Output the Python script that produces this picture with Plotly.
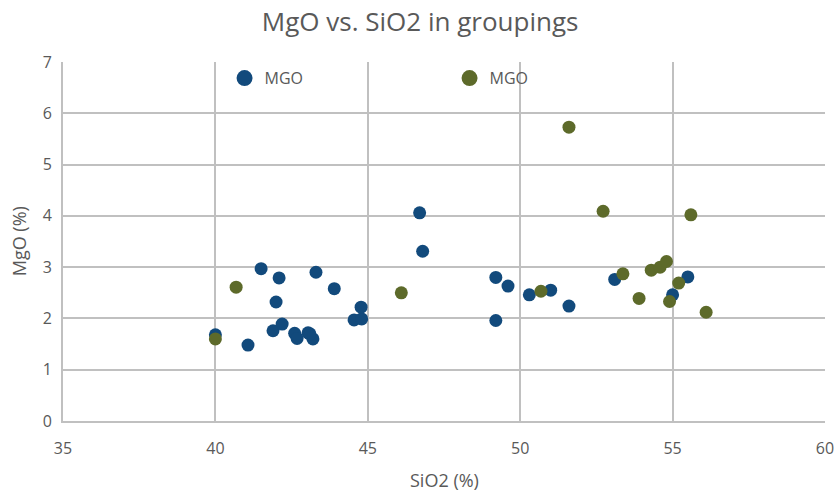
import plotly.graph_objects as go

# Group 1 (blue) samples: SiO2 % and MgO %
sio2_a = [40.0, 41.07, 41.5, 42.09, 41.99, 41.89, 42.19, 42.6, 42.68, 43.04, 43.2, 43.3,
          43.9, 44.55, 44.8, 44.78, 46.7, 46.8, 49.2, 49.2, 49.6, 50.3, 51.0, 51.6,
          53.1, 55.0, 55.5, 43.1]
mgo_a = [1.68, 1.48, 2.97, 2.79, 2.32, 1.76, 1.89, 1.71, 1.61, 1.72, 1.6, 2.9,
         2.58, 1.97, 1.99, 2.22, 4.06, 3.31, 2.8, 1.96, 2.63, 2.46, 2.55, 2.24,
         2.76, 2.46, 2.81, 1.7]

# Group 2 (olive) samples
sio2_b = [40.0, 40.68, 46.1, 50.68, 51.6, 52.72, 53.37, 53.9, 54.3, 54.59, 54.8,
          54.9, 55.2, 55.6, 56.1]
mgo_b = [1.6, 2.61, 2.5, 2.53, 5.73, 4.09, 2.87, 2.39, 2.94, 3.0, 3.11,
         2.33, 2.69, 4.02, 2.12]

series_names = ["MGO", "MGO"]
x_ticks = [35, 40, 45, 50, 55, 60]
y_ticks = [0, 1, 2, 3, 4, 5, 6, 7]

BLUE = "#124a7c"
OLIVE = "#5d6a2a"
GRID = "#c0c0c0"
TEXT = "#595959"
FONT = "Open Sans"

fig = go.Figure()
for xs, ys, color, name in [(sio2_a, mgo_a, BLUE, series_names[0]),
                            (sio2_b, mgo_b, OLIVE, series_names[1])]:
    # data points
    fig.add_trace(go.Scatter(x=xs, y=ys, mode="markers", name=name, showlegend=False,
                             marker=dict(color=color, size=13, line=dict(width=0))))
    # legend key with a larger symbol
    fig.add_trace(go.Scatter(x=[None], y=[None], mode="markers", name=name,
                             marker=dict(color=color, size=16, line=dict(width=0))))

fig.update_layout(
    width=837, height=496,
    margin=dict(l=63, r=12, t=62, b=75),
    paper_bgcolor="white", plot_bgcolor="white",
    font=dict(family=FONT, color=TEXT, size=15),
    title=dict(text="MgO vs. SiO2 in groupings", x=0.502, xanchor="center",
               y=0.955, yanchor="middle", font=dict(size=26, color=TEXT, family=FONT)),
    showlegend=True,
    legend=dict(orientation="h", x=0.212, y=0.955, xanchor="left", yanchor="middle",
                entrywidth=180, entrywidthmode="pixels", bgcolor="rgba(0,0,0,0)",
                font=dict(size=16, color=TEXT), itemsizing="trace"),
    xaxis=dict(range=[35, 60], tickvals=x_ticks, showgrid=True, gridcolor=GRID,
               gridwidth=2, showline=True, linecolor=GRID, linewidth=2, zeroline=False,
               ticks="outside", ticklen=12, tickcolor="rgba(0,0,0,0)",
               tickfont=dict(size=16, color=TEXT), automargin=False),
    yaxis=dict(range=[0, 7], tickvals=y_ticks, showgrid=True, gridcolor=GRID,
               gridwidth=2, showline=True, linecolor=GRID, linewidth=2, zeroline=False,
               ticks="outside", ticklen=6, tickcolor="rgba(0,0,0,0)",
               tickfont=dict(size=16, color=TEXT), automargin=False),
    annotations=[
        dict(text="SiO2 (%)", xref="paper", yref="paper", x=0.5, y=-0.165,
             xanchor="center", yanchor="middle", showarrow=False,
             font=dict(size=18, color=TEXT)),
        dict(text="MgO (%)", xref="paper", yref="paper", x=-0.058, y=0.5,
             xanchor="center", yanchor="middle", showarrow=False, textangle=-90,
             font=dict(size=18, color=TEXT)),
    ],
)

fig.write_html("out.html")
